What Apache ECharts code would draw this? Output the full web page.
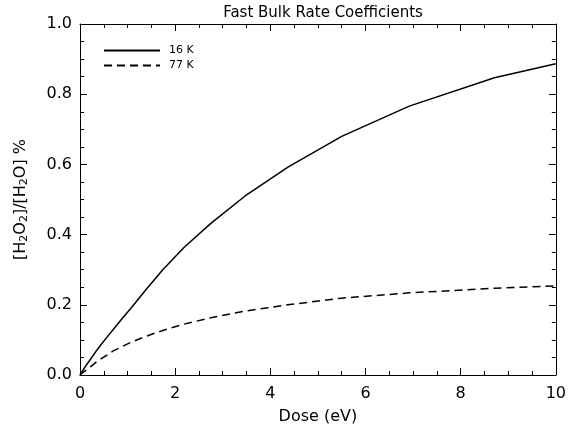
<!DOCTYPE html>
<html>
<head>
<meta charset="utf-8">
<title>Fast Bulk Rate Coefficients</title>
<script src="https://cdn.jsdelivr.net/npm/echarts@6/dist/echarts.min.js"></script>
<style>
  html, body { margin: 0; padding: 0; background: #fff; }
  #main { width: 569px; height: 433px; }
</style>
</head>
<body>
<div id="main"></div>
<script type="text/javascript">
// dose values (eV), roughly log spaced like the original sampling
var dose = [0, 0.11, 0.22, 0.35, 0.44, 0.55, 0.69, 0.87, 1.10, 1.38, 1.74,
            2.19, 2.75, 3.47, 4.37, 5.50, 6.92, 8.71, 10];
// ratio
var ratio16K = [0, 0.024, 0.045, 0.070, 0.086, 0.105, 0.128, 0.158, 0.195, 0.242, 0.300,
                0.364, 0.432, 0.510, 0.592, 0.680, 0.766, 0.847, 0.887];
var ratio77K = [0, 0.012, 0.023, 0.038, 0.046, 0.055, 0.068, 0.080, 0.095, 0.110, 0.127,
                0.145, 0.163, 0.182, 0.200, 0.219, 0.234, 0.247, 0.254];
var seriesNames = ['16 K', '77 K'];

function pairs(xs, ys) {
  var out = [];
  for (var i = 0; i < xs.length; i++) out.push([xs[i], ys[i]]);
  return out;
}

var font = 'DejaVu Sans';
var ink = '#000';

function axisBase(show) {
  return {
    axisLine: { show: true, onZero: false, lineStyle: { color: ink, width: 1 } },
    axisTick: { show: true, inside: true, length: 7, lineStyle: { color: ink } },
    minorTick: { show: true, splitNumber: 4, length: 4, lineStyle: { color: ink } },
    splitLine: { show: false },
    axisLabel: { show: show, color: ink, fontFamily: font, fontSize: 16 }
  };
}

var myChart = echarts.init(document.getElementById('main'));

var xBottom = Object.assign(axisBase(true), {
  type: 'value', position: 'bottom', min: 0, max: 10, interval: 2,
  name: 'Dose (eV)', nameLocation: 'middle', nameGap: 34,
  nameTextStyle: { color: ink, fontFamily: font, fontSize: 16 }
});
xBottom.axisLabel.margin = 11;
var xTop = Object.assign(axisBase(false), {
  type: 'value', position: 'top', min: 0, max: 10, interval: 2
});

var yLeft = Object.assign(axisBase(true), {
  type: 'value', position: 'left', min: 0, max: 1, interval: 0.2,
  name: '[H{s|2}O{s|2}]/[H{s|2}O] %', nameLocation: 'middle', nameGap: 50, nameRotate: 90,
  nameTextStyle: {
    color: ink, fontFamily: font, fontSize: 16,
    rich: { s: { fontFamily: font, fontSize: 11, color: ink, verticalAlign: 'bottom', padding: [8, 0, 0, 0] } }
  }
});
yLeft.axisLabel.formatter = function (v) { return v.toFixed(1); };
yLeft.axisLabel.margin = 8;
var yRight = Object.assign(axisBase(false), {
  type: 'value', position: 'right', min: 0, max: 1, interval: 0.2
});

var option = {
  backgroundColor: '#fff',
  animation: false,
  title: {
    text: 'Fast Bulk Rate Coefficients',
    left: 318, top: 1, textAlign: 'center',
    textStyle: { color: ink, fontFamily: font, fontSize: 15, fontWeight: 'normal' }
  },
  legend: {
    orient: 'vertical', left: 98, top: 40,
    itemWidth: 56, itemHeight: 12, itemGap: 4,
    data: seriesNames,
    itemStyle: { opacity: 0 },
    textStyle: { color: ink, fontFamily: font, fontSize: 11, padding: [0, 0, 0, 4] }
  },
  grid: { left: 80, right: 13, top: 24, bottom: 58 },
  xAxis: [xBottom, xTop],
  yAxis: [yLeft, yRight],
  series: [
    {
      name: seriesNames[0], type: 'line', xAxisIndex: 0, yAxisIndex: 0,
      symbol: 'none', data: pairs(dose, ratio16K),
      lineStyle: { color: ink, width: 1.5, type: 'solid' },
      itemStyle: { color: ink }
    },
    {
      name: seriesNames[1], type: 'line', xAxisIndex: 0, yAxisIndex: 0,
      symbol: 'none', data: pairs(dose, ratio77K),
      lineStyle: { color: ink, width: 1.5, type: [8, 5] },
      itemStyle: { color: ink }
    }
  ]
};

myChart.setOption(option);
</script>
</body>
</html>
